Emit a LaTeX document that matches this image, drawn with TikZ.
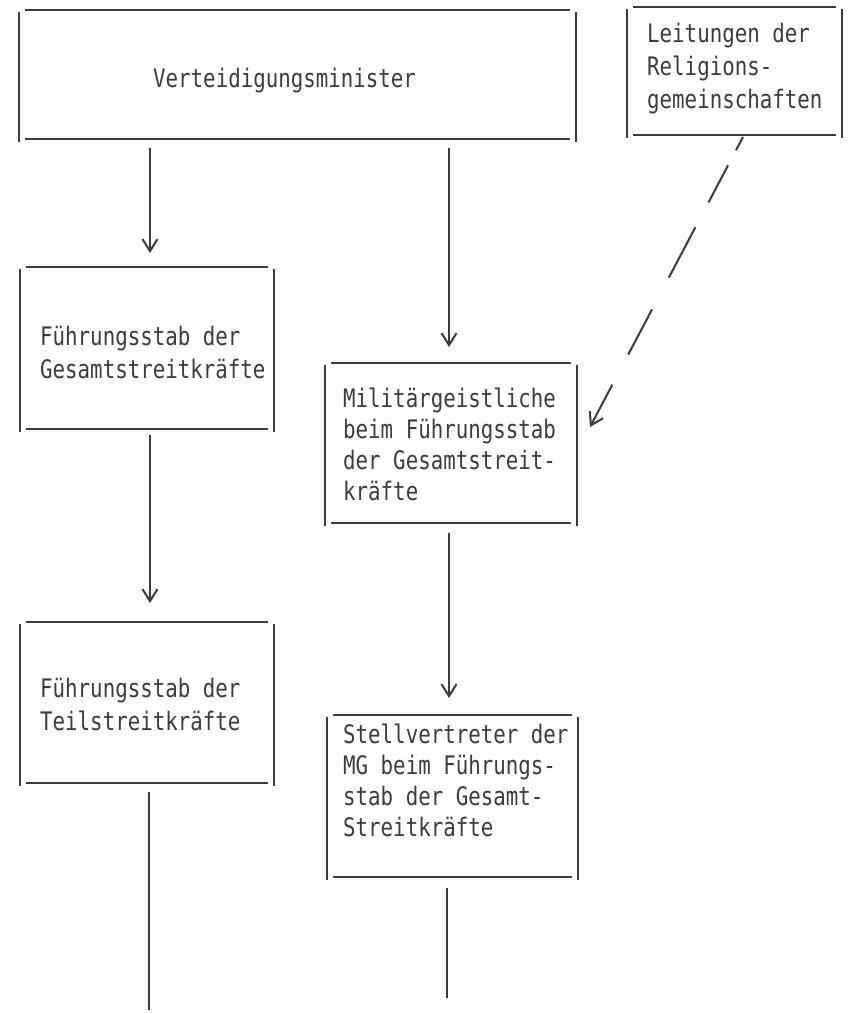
\documentclass[tikz,border=0pt]{standalone}
\usepackage{fontspec}
\newfontfamily\tw[FakeStretch=0.815]{DejaVu Sans Mono}
\usetikzlibrary{arrows.meta}
\definecolor{ink}{HTML}{3C3C3C}
\newcommand\tlines[2]{\vtop{\baselineskip=#1pt\lineskiplimit=-100pt\lineskip=0pt #2}}
\newcommand\twbox[1]{%
  \draw[edge] ([xshift=6pt]#1.north west) -- ([xshift=-6pt]#1.north east);
  \draw[edge] ([xshift=6pt]#1.south west) -- ([xshift=-6pt]#1.south east);
  \draw[edge] ([yshift=-2pt]#1.north west) -- ([yshift=-3pt]#1.south west);
  \draw[edge] ([yshift=-2pt]#1.north east) -- ([yshift=-3pt]#1.south east);}
\tikzset{
  boxnode/.style={rectangle, inner sep=0pt, outer sep=0pt, draw=none},
  edge/.style={draw=ink, line width=2pt},
  txt/.style={anchor=base west, inner sep=0pt, text=ink, font=\tw\fontsize{25.5}{31}\selectfont},
  arr/.style={draw=ink, line width=2pt, -{Straight Barb[length=12pt,width=15pt]}},
  dasharr/.style={arr, dash pattern=on 15pt off 17pt on 42pt off 28pt on 57pt off 36pt on 51pt off 34pt on 80pt}
}
\begin{document}
\begin{tikzpicture}[x=1pt,y=-1pt]
  \fill[white] (0,0) rectangle (850,1014);
  \useasboundingbox (0,0) rectangle (850,1014);
  % boxes
  \node[boxnode, minimum width=557pt, minimum height=129pt] (b1) at (297.5,74.5) {};
  \node[boxnode, minimum width=215pt, minimum height=128pt] (b2) at (734.5,71) {};
  \node[boxnode, minimum width=254pt, minimum height=162pt] (b3) at (147,348) {};
  \node[boxnode, minimum width=252pt, minimum height=160pt] (b4) at (451,443) {};
  \node[boxnode, minimum width=254pt, minimum height=161pt] (b5) at (147,702.5) {};
  \node[boxnode, minimum width=251pt, minimum height=162pt] (b6) at (452.5,796) {};
  \twbox{b1}\twbox{b2}\twbox{b3}\twbox{b4}\twbox{b5}\twbox{b6}
  % texts
  \node[txt] (t1) at (153,88) {Verteidigungsminister};
  \node[txt] (t2) at (647,43) {\tlines{33}{\hbox{Leitungen der}\hbox{Religions-}\hbox{gemeinschaften}}};
  \node[txt] (t3) at (40,345) {\tlines{33}{\hbox{Führungsstab der}\hbox{Gesamtstreitkräfte}}};
  \node[txt] (t4) at (343,407) {\tlines{31}{\hbox{Militärgeistliche}\hbox{beim Führungsstab}\hbox{der Gesamtstreit-}\hbox{kräfte}}};
  \node[txt] (t5) at (40,697) {\tlines{33}{\hbox{Führungsstab der}\hbox{Teilstreitkräfte}}};
  \node[txt] (t6) at (343,743) {\tlines{31}{\hbox{Stellvertreter der}\hbox{MG beim Führungs-}\hbox{stab der Gesamt-}\hbox{Streitkräfte}}};
  % free ends
  \coordinate (e5) at (149,1010);
  \coordinate (e6) at (447,998);
  % connectors
  \draw[arr] ([shift={(131pt,-9pt)}]b1.south west) -- ([shift={(130pt,14pt)}]b3.north west);
  \draw[arr] ([shift={(430pt,-9pt)}]b1.south west) -- ([shift={(124pt,16pt)}]b4.north west);
  \draw[arr] ([shift={(130pt,-6pt)}]b3.south west) -- ([shift={(130pt,19pt)}]b5.north west);
  \draw[arr] ([shift={(124pt,-10pt)}]b4.south west) -- ([shift={(122pt,17pt)}]b6.north west);
  \draw[edge] ([shift={(129pt,-9pt)}]b5.south west) -- (e5);
  \draw[edge] ([shift={(120pt,-11pt)}]b6.south west) -- (e6);
  \draw[dasharr] ([shift={(116pt,-2pt)}]b2.south west) -- ([shift={(13pt,-64pt)}]b4.north east);
\end{tikzpicture}
\end{document}
